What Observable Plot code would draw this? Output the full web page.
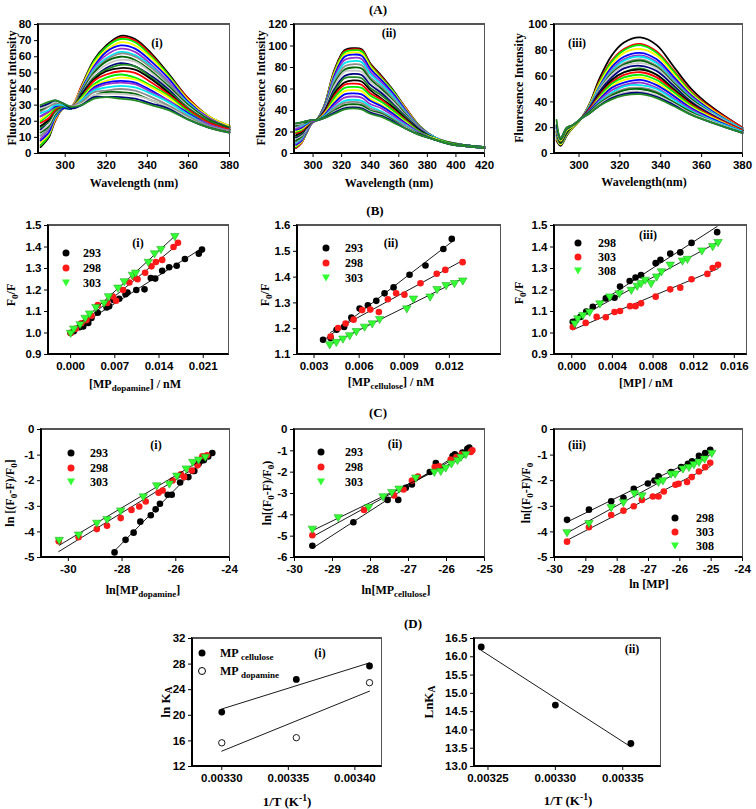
<!DOCTYPE html>
<html>
<head>
<meta charset="utf-8">
<script src="https://cdn.jsdelivr.net/npm/d3@7"></script>
<script src="https://cdn.jsdelivr.net/npm/@observablehq/plot@0.6"></script>
<style>
body{margin:0;background:#fff;}
#fig{position:relative;width:756px;height:809px;overflow:hidden;background:#fff;font-family:"Liberation Serif","Times New Roman",serif;font-weight:bold;color:#000;}
#fig > svg{position:absolute;}
.t{position:absolute;white-space:nowrap;transform:translate(-50%,-50%);line-height:1;}
.yl{transform:translate(-50%,-50%) rotate(-90deg);}
.lt{position:absolute;white-space:nowrap;transform:translate(0,-50%);line-height:1;}
sub{font-size:0.75em;vertical-align:-0.3em;line-height:0;}
sup{font-size:0.75em;vertical-align:0.45em;line-height:0;}
.sym{position:absolute;transform:translate(-50%,-50%);}
.box{position:absolute;box-sizing:border-box;border-top:1.5px solid #555;border-right:1.5px solid #555;border-left:2px solid #000;border-bottom:2px solid #000;pointer-events:none;}
</style>
</head>
<body>
<div id="fig"></div>
<script>
// ---------- Panel A spectra ----------
const wlA1 = [288,292,295,299,303,308,314,320,327,334,342,350,360,370,380];
const spectraA1 = [
[4,10,20,28,28,42,58,67,73,71,62,50,34,23,17],
[5,11,20,28,29,42,57,66,72,70,61,49,34,23,17],
[5,11,21,28,28,41,57,66,71,69,60,49,33,23,17],
[7,12,21,28,29,41,56,64,69,67,59,48,33,23,17],
[8,13,22,28,28,40,54,63,67,65,57,47,32,22,16],
[9,15,23,29,29,39,53,61,65,63,55,45,31,22,16],
[11,16,23,29,28,39,52,59,63,61,54,44,31,21,16],
[11,16,24,29,29,39,51,58,62,60,53,44,30,21,16],
[13,17,24,29,28,38,50,57,60,58,51,42,30,21,16],
[14,18,25,29,29,37,49,55,58,57,50,41,29,20,15],
[15,20,26,29,28,37,47,53,56,54,48,40,28,20,15],
[16,20,26,29,29,36,47,52,55,54,47,39,28,20,15],
[17,21,27,30,28,36,46,51,53,52,46,38,27,19,15],
[19,22,27,30,29,35,45,49,51,50,44,37,27,19,15],
[20,24,28,30,28,35,43,47,49,47,42,36,26,18,14],
[21,25,29,30,29,34,42,45,47,46,41,35,25,18,14],
[23,26,29,30,28,33,41,44,45,44,39,33,25,18,14],
[23,26,30,30,29,33,40,43,44,43,38,33,24,18,14],
[25,27,30,30,28,33,39,41,42,41,37,32,24,17,14],
[26,29,31,31,29,32,38,39,40,39,35,30,23,17,14],
[27,30,32,31,28,31,36,38,38,37,33,29,22,16,13],
[28,30,32,31,29,31,36,37,37,36,33,29,22,16,13],
[29,31,33,31,28,30,35,35,35,34,31,28,21,16,13],
[30,32,33,31,29,30,34,35,34,33,30,27,21,16,13]
];
const wlA2 = [288,292,295,299,303,308,315,322,328,334,340,348,356,365,375,385,395,405,420];
const spectraA2 = [
[5,10,18,28,32,45,78,96,98,97,84,72,59,42,25,15,10.5,8,6],
[5,10,18,28,32,45,77,95,97,96,83,71,58,42,25,15,10,8,6],
[6,11,18,28,32,45,76,94,96,95,82,70,58,41,25,15,10,8,6],
[7,11,19,28,32,44,75,92,94,93,81,69,57,41,24,15,10,8,6],
[8,12,19,28,32,44,73,90,92,91,79,68,56,40,24,15,10,8,6],
[9,13,20,28,32,43,71,87,89,88,76,66,54,39,24,15,10,8,6],
[10,14,21,29,32,42,69,84,86,85,74,64,53,38,23,15,10,8,6],
[11,15,21,29,32,42,67,81,83,82,71,62,51,37,23,14,10,8,6],
[12,16,22,29,32,41,65,78,80,79,69,60,49,36,22,14,10,8,6],
[14,17,22,29,32,41,63,76,77,76,67,58,48,35,22,14,10,8,6],
[15,18,23,29,32,40,60,72,74,73,64,56,46,34,22,14,10,8,6],
[16,19,24,29,32,39,58,70,71,70,61,54,45,33,21,14,10,8,6],
[17,20,24,30,31,39,56,66,68,67,59,51,43,32,21,14,10,7,5],
[19,21,25,30,31,38,54,64,65,64,56,50,41,31,20,14,10,7,5],
[20,22,26,30,31,37,52,61,62,61,54,48,40,30,20,14,10,7,5],
[21,23,26,30,31,37,49,58,59,58,51,45,38,29,19,14,9,7,5],
[22,24,27,30,31,36,47,55,56,55,49,44,37,28,19,13,9,7,5],
[23,25,28,30,31,35,45,52,53,52,46,42,35,27,19,13,9,7,5],
[25,26,28,31,31,35,43,49,50,49,44,39,33,26,18,13,9,7,5],
[25,27,29,31,31,34,42,47,48,47,42,38,32,25,18,13,9,7,5],
[26,28,29,31,31,34,40,45,46,45,40,37,31,24,18,13,9,7,5],
[27,28,30,31,31,33,39,43,44,43,39,36,30,24,17,13,9,7,5],
[28,29,30,31,31,33,38,42,43,42,38,35,30,23,17,13,9,7,5],
[28,29,30,31,31,33,37,41,42,41,37,34,29,23,17,13,9,7,5]
];
const wlA3 = [289,291,294,297,301,305,310,316,322,330,338,346,355,365,380];
const spectraA3 = [
[10,6,14,20,27,38,58,76,86,90,84,68,50,36,20],
[11,7,15,20,27,37,56,72,81,85,79,65,48,35,20],
[12,7,15,20,27,37,55,71,80,84,78,64,47,34,19],
[12,7,15,20,27,37,54,69,78,81,76,62,46,34,19],
[13,8,16,21,27,36,52,67,75,78,73,60,45,33,19],
[14,8,16,21,27,36,51,65,73,76,71,58,44,32,19],
[14,8,16,21,27,36,51,64,72,75,70,57,43,32,19],
[15,8,16,21,27,35,50,63,70,73,68,56,42,31,18],
[15,8,16,21,27,35,49,62,69,72,67,55,42,31,18],
[15,9,17,21,27,35,49,61,68,70,66,54,41,31,18],
[16,9,17,21,27,35,48,59,66,68,64,53,40,30,18],
[17,9,17,21,27,34,46,57,63,66,61,51,39,29,18],
[17,9,17,21,27,34,46,57,63,65,61,50,39,29,18],
[17,10,18,21,27,34,45,55,61,63,59,49,38,29,18],
[18,10,18,21,27,33,44,54,59,61,57,48,37,28,17],
[18,10,18,21,27,33,43,52,57,59,55,46,36,28,17],
[19,11,19,22,27,33,42,51,55,57,53,45,35,27,17],
[20,11,19,22,27,32,41,49,53,55,51,43,34,26,17],
[20,11,19,22,27,32,40,47,52,53,50,42,33,26,17],
[21,11,19,22,27,32,39,46,50,51,48,40,32,25,16],
[21,11,19,22,27,32,39,45,49,50,47,40,32,25,16],
[21,12,20,22,27,31,38,44,47,48,45,39,31,25,16],
[22,12,20,22,27,31,37,43,46,47,44,38,30,24,16],
[26,12,20,22,27,31,37,42,45,46,43,37,30,24,16]
];
const spectraColors = ["#000000","#ff0000","#00ee00","#ffff00","#0000ff","#9932cc","#00e5ee","#8c8c8c","#006400","#c8c8c8","#000080","#228b22"];

// ---------- Panel B: Stern-Volmer ----------
const b1x293 = [0,0.0005,0.0014,0.002,0.0028,0.0033,0.0043,0.0057,0.0061,0.0068,0.0077,0.0087,0.009,0.0104,0.0117,0.0127,0.0134,0.0145,0.0156,0.0168,0.0181,0.0203,0.0208];
const b1y293 = [1.0,1.008,1.027,1.03,1.047,1.07,1.094,1.119,1.125,1.153,1.159,1.18,1.188,1.2,1.203,1.256,1.253,1.289,1.306,1.313,1.344,1.369,1.388];
const b1x298 = [0,0.0008,0.0017,0.0025,0.0033,0.0043,0.0058,0.0067,0.0072,0.0083,0.0093,0.0101,0.0106,0.0118,0.0128,0.0135,0.0145,0.0163,0.017];
const b1y298 = [1.0,1.02,1.045,1.06,1.08,1.13,1.14,1.17,1.15,1.2,1.235,1.26,1.25,1.28,1.31,1.33,1.34,1.4,1.42];
const b1x303 = [0,0.0005,0.0015,0.0023,0.003,0.004,0.0053,0.006,0.0075,0.0085,0.0098,0.0103,0.0123,0.0133,0.0143,0.0165];
const b1y303 = [1.0,1.02,1.04,1.07,1.09,1.12,1.14,1.17,1.21,1.24,1.27,1.28,1.33,1.37,1.39,1.45];

const b2x293 = [0.0036,0.0041,0.0045,0.005,0.00548,0.00603,0.00658,0.00714,0.00769,0.00829,0.00935,0.01041,0.0116,0.01216];
const b2y293 = [1.157,1.164,1.196,1.207,1.243,1.278,1.291,1.308,1.337,1.36,1.409,1.445,1.509,1.548];
const b2x298 = [0.0041,0.0046,0.0051,0.00563,0.0062,0.00674,0.00731,0.00791,0.00846,0.00901,0.01008,0.01116,0.01173,0.01288];
const b2y298 = [1.17,1.203,1.22,1.235,1.272,1.274,1.265,1.314,1.337,1.332,1.376,1.413,1.428,1.458];
const b2x303 = [0.00404,0.00448,0.00492,0.00537,0.00581,0.00636,0.00687,0.00736,0.00917,0.00961,0.01072,0.01118,0.01178,0.01234,0.01289];
const b2y303 = [1.139,1.148,1.161,1.174,1.19,1.207,1.22,1.237,1.278,1.316,1.324,1.353,1.368,1.376,1.386];

const b3x298 = [0.0001,0.00086,0.00143,0.00207,0.00335,0.00421,0.00475,0.0057,0.00628,0.00682,0.00826,0.00873,0.00969,0.01068,0.01179,0.01431];
const b3y298 = [1.052,1.075,1.1,1.122,1.161,1.164,1.216,1.242,1.258,1.269,1.325,1.341,1.369,1.375,1.419,1.469];
const b3x303 = [0.0001,0.00137,0.00245,0.00335,0.00421,0.00475,0.00574,0.00628,0.00682,0.00826,0.00969,0.01068,0.01179,0.01335,0.01387,0.0144];
const b3y303 = [1.028,1.047,1.075,1.073,1.098,1.102,1.125,1.125,1.138,1.169,1.203,1.211,1.25,1.275,1.302,1.317];
const b3x308 = [0.0003,0.0006,0.0011,0.00175,0.00277,0.00373,0.00468,0.00586,0.00644,0.00682,0.00723,0.00781,0.00835,0.00883,0.00969,0.0109,0.01138,0.01281,0.01387,0.0144];
const b3y308 = [1.044,1.067,1.083,1.098,1.137,1.169,1.184,1.2,1.219,1.231,1.247,1.231,1.262,1.286,1.317,1.336,1.344,1.383,1.403,1.422];

// ---------- Panel C: double-log ----------
const c1x293 = [-28.28,-27.87,-27.57,-27.32,-26.93,-26.75,-26.59,-26.3,-26.15,-25.84,-25.53,-25.36,-25.31,-25.15,-24.96,-24.79,-24.64];
const c1y293 = [-4.8,-4.31,-4.03,-3.6,-3.35,-3.12,-2.9,-2.55,-2.55,-2.07,-1.86,-1.62,-1.62,-1.34,-1.2,-1.05,-0.92];
const c1x298 = [-30.36,-29.62,-28.94,-28.56,-28.05,-27.65,-27.36,-27.12,-26.64,-26.49,-26.12,-25.81,-25.69,-25.4,-25.19,-25.01,-24.84];
const c1y298 = [-4.37,-4.21,-3.89,-3.76,-3.46,-3.14,-3.01,-2.81,-2.47,-2.38,-1.99,-1.75,-1.86,-1.6,-1.4,-1.05,-1.01];
const c1x303 = [-30.34,-29.62,-28.94,-28.56,-28.05,-27.21,-26.71,-26.24,-25.96,-25.61,-25.37,-25.15,-24.9];
const c1y303 = [-4.32,-4.11,-3.65,-3.51,-3.17,-2.62,-2.19,-2.12,-1.81,-1.53,-1.27,-1.18,-1.07];

const c2x293 = [-29.53,-28.45,-27.55,-27.27,-27.07,-26.91,-26.44,-26.28,-25.84,-25.78,-25.58,-25.45,-25.4];
const c2y293 = [-5.45,-4.35,-3.3,-3.3,-2.73,-2.58,-1.99,-1.57,-1.24,-1.16,-1.08,-0.9,-0.85];
const c2x298 = [-29.53,-28.17,-27.38,-27.13,-26.91,-26.75,-26.31,-26.19,-25.89,-25.74,-25.6,-25.36,-25.32];
const c2y298 = [-4.96,-3.77,-3.09,-2.81,-2.39,-2.2,-1.76,-1.73,-1.41,-1.29,-1.16,-1.05,-0.97];
const c2x303 = [-29.53,-28.85,-28.05,-27.67,-27.44,-27.25,-26.81,-26.32,-26.15,-26.02,-25.87,-25.71,-25.62,-25.49];
const c2y303 = [-4.66,-4.12,-3.64,-3.14,-2.94,-2.78,-2.26,-1.99,-1.95,-1.79,-1.6,-1.44,-1.29,-1.16];

const c3x298 = [-29.6,-28.9,-28.19,-27.8,-27.47,-27.02,-26.81,-26.68,-26.28,-25.96,-25.74,-25.61,-25.39,-25.19,-25.03];
const c3y298 = [-3.53,-3.13,-2.8,-2.67,-2.32,-2.11,-1.99,-1.83,-1.66,-1.47,-1.34,-1.24,-1.03,-0.92,-0.79];
const c3x303 = [-29.6,-28.9,-28.19,-27.8,-27.47,-27.21,-26.86,-26.68,-26.51,-26.14,-26.04,-25.77,-25.62,-25.39,-25.19,-25.03];
const c3y303 = [-4.38,-3.82,-3.34,-3.17,-3.0,-2.75,-2.62,-2.62,-2.42,-2.16,-2.12,-2.05,-1.86,-1.64,-1.47,-1.3];
const c3x308 = [-29.6,-28.9,-28.19,-27.8,-27.45,-27.21,-26.68,-26.54,-26.28,-26.15,-25.9,-25.71,-25.55,-25.39,-25.21,-24.98];
const c3y308 = [-4.02,-3.66,-3.04,-2.84,-2.49,-2.58,-2.05,-1.99,-1.73,-1.73,-1.53,-1.47,-1.36,-1.27,-1.14,-0.92];

// ---------- Panel D: van't Hoff ----------
const d1x = [0.00330,0.003356,0.003411];
const d1Cellulose = [20.5,25.6,27.7];
const d1Dopamine = [15.7,16.5,25.1];
const d2x = [0.003245,0.00330,0.003356];
const d2y = [16.27,14.68,13.63];

// tick label lists
const ticksA1x = [300,320,340,360,380], ticksA1y = [0,10,20,30,40,50,60,70,80];
const ticksA2x = [300,320,340,360,380,400,420], ticksA2y = [0,20,40,60,80,100,120];
const ticksA3x = [300,320,340,360,380], ticksA3y = [0,20,40,60,80,100];
const ticksB1x = [0,0.007,0.014,0.021], ticksBy = [0.9,1.0,1.1,1.2,1.3,1.4,1.5];
const ticksB2x = [0.003,0.006,0.009,0.012], ticksB2y = [1.1,1.2,1.3,1.4,1.5,1.6];
const ticksB3x = [0,0.004,0.008,0.012,0.016];
const ticksC1x = [-30,-28,-26,-24], ticksC1y = [-5,-4,-3,-2,-1,0];
const ticksC2x = [-30,-29,-28,-27,-26,-25], ticksC2y = [-6,-5,-4,-3,-2,-1,0];
const ticksC3x = [-30,-29,-28,-27,-26,-25,-24];
const ticksD1x = [0.0033,0.00335,0.0034], ticksD1y = [12,16,20,24,28,32];
const ticksD2x = [0.00325,0.0033,0.00335], ticksD2y = [13,13.5,14,14.5,15,15.5,16,16.5];

// ---------- drawing ----------
const fig = document.getElementById("fig");
const BLACK = "#000", RED = "#ff1a1a", GREEN = "#33ff33", GREEN_EDGE = "#19a019";
const triDown = {draw(ctx, size){const r = Math.sqrt(size/Math.PI)*1.25; ctx.moveTo(-r,-r*0.65); ctx.lineTo(r,-r*0.65); ctx.lineTo(0,r*1.05); ctx.closePath();}};
const fmtInt = d => String(d);
const f1 = d3.format(".1f"), f3 = d3.format(".3f"), f5 = d3.format(".5f");
const boxes = [];

function panel(frame, xs, ys, marks){
  const ml = 46, mr = 14, mt = 8, mb = 28;
  const [x0,x1,y0,y1] = frame;
  const svg = Plot.plot({
    width: x1-x0+ml+mr, height: y1-y0+mt+mb,
    marginLeft: ml, marginRight: mr, marginTop: mt, marginBottom: mb,
    x: {type: "linear", domain: xs.domain, ticks: xs.ticks, tickFormat: xs.fmt, tickSize: 4, tickPadding: 3, label: null},
    y: {type: "linear", domain: ys.domain, ticks: ys.ticks, tickFormat: ys.fmt, tickSize: 4, tickPadding: 3, label: null},
    style: {background: "transparent", overflow: "visible", fontFamily: "'Liberation Sans', Arial, sans-serif", fontSize: "11.5px", fontWeight: "bold", color: "#000"},
    marks: [Plot.frame({stroke: "#555"}), ...marks]
  });
  svg.style.left = (x0-ml) + "px";
  svg.style.top = (y0-mt) + "px";
  fig.appendChild(svg);
  boxes.push(frame);
}
function spectra(wl, curves){
  return curves.map((vals, i) => Plot.line(wl.map((w, j) => ({w, v: vals[j]})),
    {x: "w", y: "v", stroke: spectraColors[i % spectraColors.length], strokeWidth: 1.8, curve: "catmull-rom"}));
}
function rows(xs, ys){ return xs.map((x, i) => ({x, y: ys[i]})); }
function series(xs, ys, kind){
  const data = rows(xs, ys);
  const fit = Plot.linearRegressionY(data, {x: "x", y: "y", stroke: "#000", strokeWidth: 0.9, ci: 0});
  let dot;
  if (kind === "black") dot = Plot.dot(data, {x: "x", y: "y", r: 3.3, fill: BLACK});
  else if (kind === "red") dot = Plot.dot(data, {x: "x", y: "y", r: 3.3, fill: RED});
  else dot = Plot.dot(data, {x: "x", y: "y", r: 3.4, symbol: triDown, fill: GREEN, stroke: GREEN_EDGE, strokeWidth: 0.5});
  return [fit, dot];
}
function text(html, x, y, size, cls){
  const d = document.createElement("div");
  d.className = cls || "t";
  d.innerHTML = html;
  d.style.left = x + "px"; d.style.top = y + "px"; d.style.fontSize = size + "px";
  fig.appendChild(d);
}
function legend(sx, tx, ys, labels, kinds){
  labels.forEach((lab, i) => {
    const s = document.createElement("div");
    s.className = "sym";
    s.style.left = sx + "px"; s.style.top = ys[i] + "px";
    if (kinds[i] === "tri") {
      s.style.width = "0"; s.style.height = "0";
      s.style.borderLeft = "4.5px solid transparent"; s.style.borderRight = "4.5px solid transparent";
      s.style.borderTop = "7px solid " + GREEN;
    } else {
      s.style.width = "7px"; s.style.height = "7px"; s.style.borderRadius = "50%";
      s.style.background = kinds[i] === "red" ? RED : (kinds[i] === "open" ? "#fff" : BLACK);
      if (kinds[i] === "open") { s.style.border = "1px solid #000"; s.style.width = "6px"; s.style.height = "6px"; }
    }
    fig.appendChild(s);
    text(lab, tx, ys[i], 12, "lt");
  });
}

// Row A
panel([38,229,24,153], {domain:[287,380], ticks: ticksA1x, fmt: fmtInt}, {domain:[0,80], ticks: ticksA1y, fmt: fmtInt}, spectra(wlA1, spectraA1));
panel([294,484,24,153], {domain:[287,420], ticks: ticksA2x, fmt: fmtInt}, {domain:[0,120], ticks: ticksA2y, fmt: fmtInt}, spectra(wlA2, spectraA2));
panel([554,742,24,153], {domain:[288,380], ticks: ticksA3x, fmt: fmtInt}, {domain:[0,100], ticks: ticksA3y, fmt: fmtInt}, spectra(wlA3, spectraA3));

// Row B
panel([48,228,225,354], {domain:[-0.0035,0.025], ticks: ticksB1x, fmt: f3}, {domain:[0.9,1.5], ticks: ticksBy, fmt: f1},
  [...series(b1x293,b1y293,"black"), ...series(b1x298,b1y298,"red"), ...series(b1x303,b1y303,"tri")]);
panel([297,500,225,354], {domain:[0.0019,0.0154], ticks: ticksB2x, fmt: f3}, {domain:[1.1,1.6], ticks: ticksB2y, fmt: f1},
  [...series(b2x293,b2y293,"black"), ...series(b2x298,b2y298,"red"), ...series(b2x303,b2y303,"tri")]);
panel([554,746,225,354], {domain:[-0.0017,0.0172], ticks: ticksB3x, fmt: f3}, {domain:[0.9,1.5], ticks: ticksBy, fmt: f1},
  [...series(b3x298,b3y298,"black"), ...series(b3x303,b3y303,"red"), ...series(b3x308,b3y308,"tri")]);

// Row C
panel([41,229,429,557], {domain:[-31,-24], ticks: ticksC1x, fmt: fmtInt}, {domain:[-5,0], ticks: ticksC1y, fmt: fmtInt},
  [...series(c1x293,c1y293,"black"), ...series(c1x298,c1y298,"red"), ...series(c1x303,c1y303,"tri")]);
panel([294,484,429,557], {domain:[-30,-25], ticks: ticksC2x, fmt: fmtInt}, {domain:[-6,0], ticks: ticksC2y, fmt: fmtInt},
  [...series(c2x293,c2y293,"black"), ...series(c2x298,c2y298,"red"), ...series(c2x303,c2y303,"tri")]);
panel([554,742,429,557], {domain:[-30,-24], ticks: ticksC3x, fmt: fmtInt}, {domain:[-5,0], ticks: ticksC1y, fmt: fmtInt},
  [...series(c3x298,c3y298,"black"), ...series(c3x303,c3y303,"red"), ...series(c3x308,c3y308,"tri")]);

// Row D
const dCell = rows(d1x, d1Cellulose), dDop = rows(d1x, d1Dopamine), dII = rows(d2x, d2y);
panel([192,381,638,766], {domain:[0.003278,0.00342], ticks: ticksD1x, fmt: f5}, {domain:[12,32], ticks: ticksD1y, fmt: fmtInt}, [
  Plot.linearRegressionY(dCell, {x:"x", y:"y", stroke:"#000", strokeWidth:0.9, ci:0}),
  Plot.linearRegressionY(dDop, {x:"x", y:"y", stroke:"#000", strokeWidth:0.9, ci:0}),
  Plot.dot(dCell, {x:"x", y:"y", r:3.4, fill:"#000"}),
  Plot.dot(dDop, {x:"x", y:"y", r:3.2, fill:"#fff", stroke:"#000", strokeWidth:0.9})
]);
panel([474,660,638,766], {domain:[0.00324,0.003378], ticks: ticksD2x, fmt: f5}, {domain:[13,16.5], ticks: ticksD2y, fmt: f1}, [
  Plot.linearRegressionY(dII, {x:"x", y:"y", stroke:"#000", strokeWidth:0.9, ci:0}),
  Plot.dot(dII, {x:"x", y:"y", r:3.4, fill:"#000"})
]);

// panel frames (decoration on the same plot-area rectangles)
boxes.forEach(([x0,x1,y0,y1]) => {
  const b = document.createElement("div");
  b.className = "box";
  b.style.left = (x0 - 1) + "px"; b.style.top = (y0 - 1) + "px";
  b.style.width = (x1 - x0 + 2) + "px"; b.style.height = (y1 - y0 + 2) + "px";
  fig.appendChild(b);
});

// ---------- texts ----------
text("(A)", 378, 9, 13); text("(B)", 375, 210, 13); text("(C)", 378, 412, 13); text("(D)", 413, 623, 13);

text("(i)", 157, 43, 12); text("(ii)", 389, 33, 12); text("(iii)", 577, 43, 12);
text("(i)", 138, 243, 12); text("(ii)", 391, 243, 12); text("(iii)", 648, 235, 12);
text("(i)", 156, 445, 12); text("(ii)", 395, 444, 12); text("(iii)", 577, 445, 12);
text("(i)", 320, 653, 12); text("(ii)", 632, 649, 12);

// y axis titles
text("Fluorescence Intensity", 12, 88, 12, "t yl");
text("Fluorescence Intensity", 261, 88, 12, "t yl");
text("Fluoresence Intensity", 519, 88, 12, "t yl");
text("F<sub>0</sub>/F", 11, 295, 12, "t yl");
text("F<sub>0</sub>/F", 265, 295, 12, "t yl");
text("F<sub>0</sub>/F", 519, 293, 12, "t yl");
text("ln [(F<sub>0</sub>-F)/F<sub>0</sub>]", 10, 493, 12, "t yl");
text("ln[(F<sub>0</sub>-F)/F<sub>0</sub>)", 267, 493, 12, "t yl");
text("ln[(F<sub>0</sub>-F)/F<sub>0</sub>", 526, 493, 12, "t yl");
text("ln K<sub>A</sub>", 165, 702, 13, "t yl");
text("LnK<sub>A</sub>", 428, 702, 13, "t yl");

// x axis titles
text("Wavelength (nm)", 134, 183, 12);
text("Wavelength (nm)", 389, 183, 12);
text("Wavelength(nm)", 644, 182, 12);
text("[MP<sub>dopamine</sub>] / nM", 135, 384, 12);
text("[MP<sub>cellulose</sub>] / nM", 391, 382, 12);
text("[MP] / nM", 646, 383, 12);
text("ln[MP<sub>dopamine</sub>]", 143, 590, 12);
text("ln[MP<sub>cellulose</sub>]", 396, 590, 12);
text("ln [MP]", 649, 584, 12);
text("1/T (K<sup>-1</sup>)", 287, 801, 13);
text("1/T (K<sup>-1</sup>)", 568, 800, 13);

// legends
legend(66, 83, [253,268,283], ["293","298","303"], ["black","red","tri"]);
legend(326, 345, [248,263,278], ["293","298","303"], ["black","red","tri"]);
legend(578, 598, [243,257,271], ["298","303","308"], ["black","red","tri"]);
legend(71, 90, [453,468,482], ["293","298","303"], ["black","red","tri"]);
legend(321, 345, [452,467,482], ["293","298","303"], ["black","red","tri"]);
legend(675, 696, [518,532,546], ["298","303","308"], ["black","red","tri"]);
legend(202, 220, [653,671], ["MP <sub>cellulose</sub>","MP <sub>dopamine</sub>"], ["black","open"]);
</script>
</body>
</html>
